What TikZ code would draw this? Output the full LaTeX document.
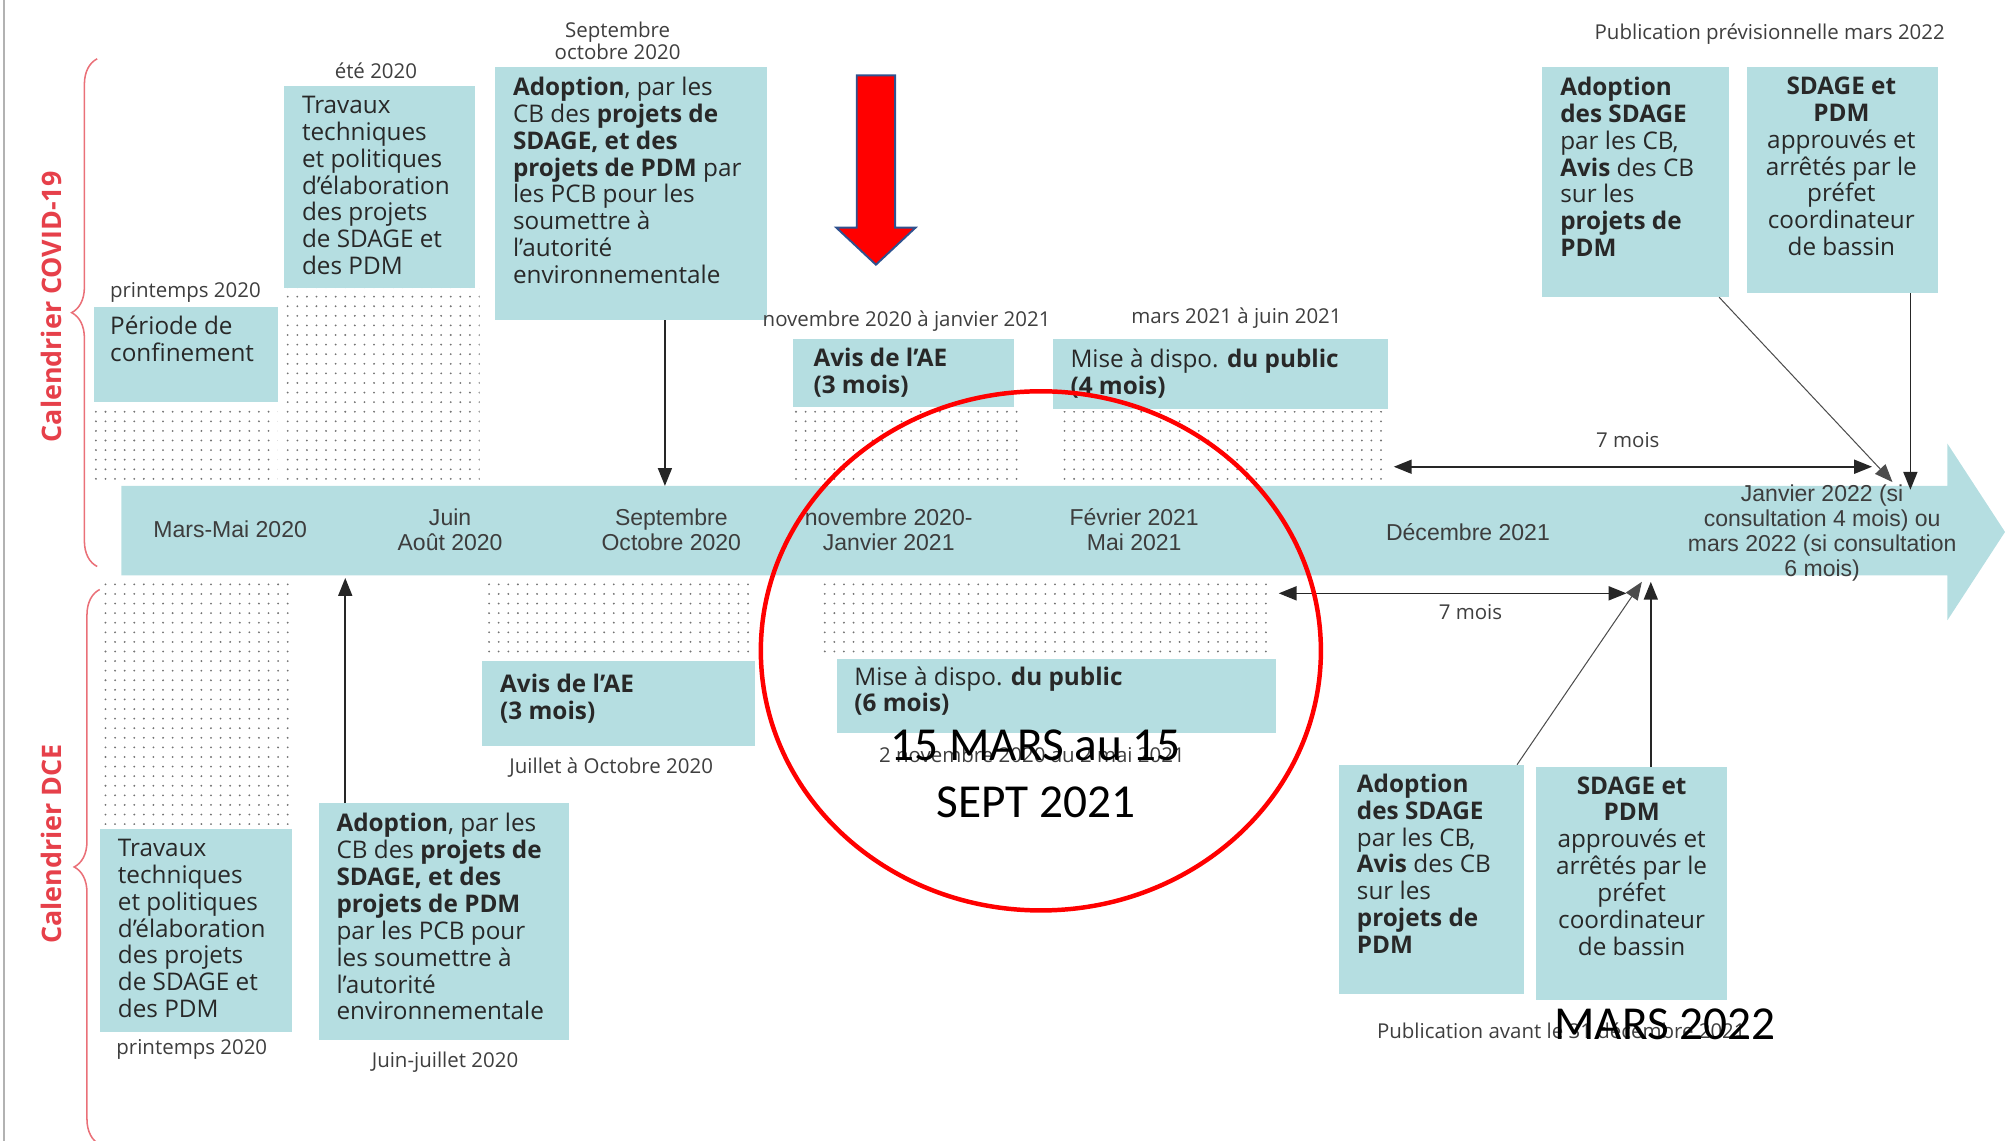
\documentclass[tikz,border=0pt]{standalone}
\usepackage{fontspec}
\setmainfont{Open Sans}
\newfontfamily\arialfont{Liberation Sans}
\newfontfamily\calibrifont{Carlito}
\usetikzlibrary{arrows.meta,patterns.meta,decorations.pathreplacing}

\definecolor{boxcol}{RGB}{181,222,225}
\definecolor{covidred}{RGB}{230,64,74}
\definecolor{bracered}{RGB}{234,112,120}
\definecolor{arrowblue}{RGB}{47,82,143}
\definecolor{txtgray}{RGB}{40,40,40}
\definecolor{lblgray}{RGB}{62,62,62}

\tikzset{
  panel/.style={anchor=north west, fill=boxcol, inner sep=0pt},
  paneltxt/.style={anchor=north west, inner sep=0pt, align=left, execute at begin node=\strut,
    text=txtgray, font=\fontsize{19}{21}\selectfont},
  datelbl/.style={inner sep=0pt, text=lblgray, font=\fontsize{16}{17}\selectfont},
  axislbl/.style={inner sep=0pt, align=center, text=txtgray!90,
    font=\arialfont\fontsize{18}{19.5}\selectfont},
  dotfield/.style={pattern={Dots[distance=7.5pt, radius=0.8pt]}, pattern color=black!55},
  conn/.style={draw=black!85, line width=1.2pt, -{Triangle[length=14pt,width=11pt]}},
  thinconn/.style={draw=black!70, line width=0.8pt, -{Triangle[length=14pt,width=11pt]}},
  twoway/.style={draw=black!85, line width=1.2pt,
    {Triangle[length=14pt,width=11pt]}-{Triangle[length=14pt,width=11pt]}},
  calendar/.style={inner sep=0pt, rotate=90, text=covidred, font=\bfseries\fontsize{21}{23}\selectfont},
  overlay txt/.style={inner sep=0pt, align=center, font=\calibrifont\fontsize{37}{45}\selectfont}
}

\begin{document}
\begin{tikzpicture}[x=1pt, y=-1pt]
\useasboundingbox (0,0) rectangle (1568,892);

% page edge and braces
\draw[gray!60, line width=1.5pt] (3,0) -- (3,892);
\draw[bracered, line width=1.2pt, decorate, decoration={brace, amplitude=20pt}] (76,443) -- (76,46);
\draw[bracered, line width=1.2pt, decorate, decoration={brace, amplitude=20pt}] (78,895) -- (78,461);
\node[calendar] (calcovid) at (40,240) {Calendrier COVID-19};
\node[calendar] (caldce) at (40,660) {Calendrier DCE};

% dotted periods
\fill[dotfield] (73,316) rectangle (217,378);
\fill[dotfield] (222,226) rectangle (375,378);
\fill[dotfield] (618,320) rectangle (797,378);
\fill[dotfield] (827,322) rectangle (1085,380);
\fill[dotfield] (78,452) rectangle (228,645);
\fill[dotfield] (377,452) rectangle (590,515);
\fill[dotfield] (640,452) rectangle (993,513);

% time line
\fill[boxcol] (95,380) -- (1523,380) -- (1523,347) -- (1568,416) -- (1523,485)
  -- (1523,450) -- (95,450) -- cycle;
\node[axislbl] (tmars) at (180,414) {Mars-Mai 2020};
\node[axislbl] (tjuin) at (352,414) {Juin\\Août 2020};
\node[axislbl] (tsept) at (525,414) {Septembre\\Octobre 2020};
\node[axislbl] (tnov) at (695,414) {novembre 2020-\\Janvier 2021};
\node[axislbl] (tfev) at (887,414) {Février 2021\\Mai 2021};
\node[axislbl] (tdec) at (1148,416) {Décembre 2021};
\node[axislbl] (tjan) at (1425,417) {Janvier 2022 (si\\consultation 4 mois) ou\\mars 2022 (si consultation\\6 mois)};

% COVID-19 calendar (top)
\node[datelbl] (lprint1) at (145,229) {printemps 2020};
\node[panel, minimum width=144pt, minimum height=74pt] (confin) at (73,240) {};
\node[paneltxt] (confintxt) at (86,247) {Période de\\confinement};

\node[datelbl] (lete) at (294,55) {été 2020};
\node[panel, minimum width=149pt, minimum height=158pt] (trav1) at (222,67) {};
\node[paneltxt] (trav1txt) at (236,75) {Travaux\\techniques\\et politiques\\d’élaboration\\des projets\\de SDAGE et\\des PDM};

\node[datelbl, align=center] (lsept) at (483,32) {Septembre\\octobre 2020};
\node[panel, minimum width=213pt, minimum height=198pt] (adopt1) at (387,52) {};
\node[paneltxt] (adopt1txt) at (401,60) {\textbf{Adoption}, par les\\CB des \textbf{projets de}\\\textbf{SDAGE, et des}\\\textbf{projets de PDM} par\\les PCB pour les\\soumettre à\\l’autorité\\environnementale};

\node[datelbl] (lnov) at (709,251) {novembre 2020 à janvier 2021};
\node[panel, minimum width=173pt, minimum height=53pt] (avis1) at (620,265) {};
\node[paneltxt] (avis1txt) at (636,272) {\textbf{Avis de l’AE}\\\textbf{(3 mois)}};

\node[datelbl] (lmars) at (967,249) {mars 2021 à juin 2021};
\node[panel, minimum width=262pt, minimum height=55pt] (mise1) at (823,265) {};
\node[paneltxt] (mise1txt) at (837,273) {Mise à dispo. \textbf{du public}\\\textbf{(4 mois)}};

\node[datelbl] (lprev) at (1384,27) {Publication prévisionnelle mars 2022};
\node[panel, minimum width=146pt, minimum height=180pt] (adsdage1) at (1206,52) {};
\node[paneltxt] (adsdage1txt) at (1220,60) {\textbf{Adoption}\\\textbf{des SDAGE}\\par les CB,\\\textbf{Avis} des CB\\sur les\\\textbf{projets de}\\\textbf{PDM}};
\node[panel, minimum width=149pt, minimum height=177pt] (appr1) at (1366,52) {};
\node[paneltxt, anchor=north, align=center] (appr1txt) at (1440,60) {\textbf{SDAGE et}\\\textbf{PDM}\\approuvés et\\arrêtés par le\\préfet\\coordinateur\\de bassin};

\coordinate (sept1) at (520,380);
\draw[conn] (adopt1.south -| sept1) -- (sept1);
\coordinate (dec1) at (1090,365);
\coordinate (jan1) at (1464,365);
\draw[twoway] (dec1) -- (jan1);
\node[datelbl] (mois1) at (1273,344) {7 mois};
\coordinate (jan2) at (1480,377);
\draw[thinconn] ([xshift=-8pt]adsdage1.south east) -- (jan2);
\coordinate (jan3) at (1494,383);
\draw[conn] (appr1.south -| jan3) -- (jan3);

% DCE calendar (bottom)
\node[panel, minimum width=150pt, minimum height=159pt] (trav2) at (78,648) {};
\node[paneltxt] (trav2txt) at (92,656) {Travaux\\techniques\\et politiques\\d’élaboration\\des projets\\de SDAGE et\\des PDM};
\node[datelbl] (lprint2) at (150,821) {printemps 2020};

\node[panel, minimum width=196pt, minimum height=185pt] (adopt2) at (249,628) {};
\node[paneltxt] (adopt2txt) at (263,636) {\textbf{Adoption}, par les\\CB des \textbf{projets de}\\\textbf{SDAGE, et des}\\\textbf{projets de PDM}\\par les PCB pour\\les soumettre à\\l’autorité\\environnementale};
\node[datelbl] (ljuin) at (348,831) {Juin-juillet 2020};
\coordinate (juin1) at (270,452);
\draw[conn] (adopt2.north -| juin1) -- (juin1);

\node[panel, minimum width=213pt, minimum height=66pt] (avis2) at (377,517) {};
\node[paneltxt] (avis2txt) at (391,527) {\textbf{Avis de l’AE}\\\textbf{(3 mois)}};
\node[datelbl] (ljuil) at (478,600) {Juillet à Octobre 2020};

\node[panel, minimum width=344pt, minimum height=58pt] (mise2) at (654,515) {};
\node[paneltxt] (mise2txt) at (668,521) {Mise à dispo. \textbf{du public}\\\textbf{(6 mois)}};
\node[datelbl] (lnov2) at (807,590) {2 novembre 2020 au 2 mai 2021};

\coordinate (dec2) at (1000,464);
\coordinate (jan4) at (1272,464);
\draw[twoway] (dec2) -- (jan4);
\node[datelbl] (mois2) at (1150,479) {7 mois};

\node[panel, minimum width=145pt, minimum height=179pt] (adsdage2) at (1047,598) {};
\node[paneltxt] (adsdage2txt) at (1061,605) {\textbf{Adoption}\\\textbf{des SDAGE}\\par les CB,\\\textbf{Avis} des CB\\sur les\\\textbf{projets de}\\\textbf{PDM}};
\node[panel, minimum width=149pt, minimum height=182pt] (appr2) at (1201,600) {};
\node[paneltxt, anchor=north, align=center] (appr2txt) at (1276,607) {\textbf{SDAGE et}\\\textbf{PDM}\\approuvés et\\arrêtés par le\\préfet\\coordinateur\\de bassin};
\coordinate (jan5) at (1284,455);
\draw[thinconn] ([xshift=-6pt]adsdage2.north east) -- (jan5);
\coordinate (jan6) at (1291,455);
\draw[conn] (appr2.north -| jan6) -- (jan6);
\node[datelbl] (lpub) at (1221,806) {Publication avant le 31 décembre 2021};

% red marks
\draw[arrowblue, fill=red, line width=1.5pt] (670,59) -- (700,59) -- (700,178) -- (716,178)
  -- (685,207) -- (654,178) -- (670,178) -- cycle;
\draw[red, line width=3.5pt] (814,509) ellipse [x radius=219pt, y radius=203pt];
\node[overlay txt] (quinze) at (810,605) {15 MARS au 15\\SEPT 2021};
\node[overlay txt] (mars22) at (1302,801) {MARS 2022};
\end{tikzpicture}
\end{document}
